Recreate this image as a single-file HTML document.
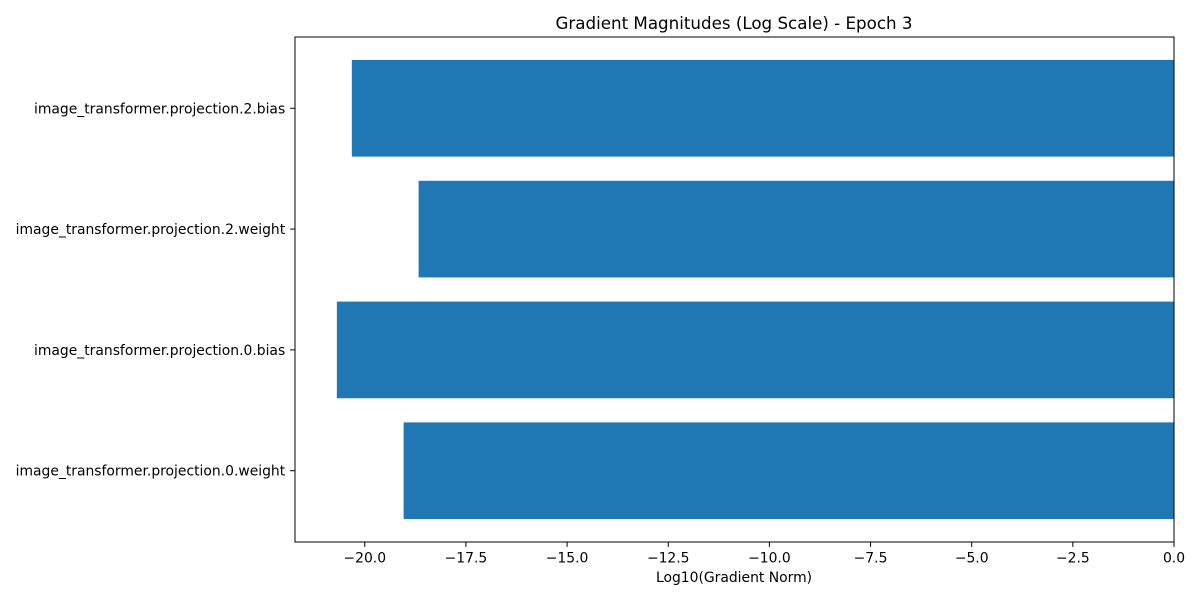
<!DOCTYPE html>
<html><head><meta charset="utf-8"><style>
body{margin:0;background:#fff;font-family:"Liberation Sans","DejaVu Sans",sans-serif;}
svg text{font-family:"DejaVu Sans","Liberation Sans",sans-serif;}
</style></head><body>
<svg id="chart" width="1200" height="600" xmlns="http://www.w3.org/2000/svg">
<text x="734" y="29" font-size="16.7" text-anchor="middle">Gradient Magnitudes (Log Scale) - Epoch 3</text>
<g id="bars"></g>
<g id="xaxis"></g>
<g id="yaxis"></g>
<rect x="295" y="37" width="879" height="505" fill="none" stroke="#000" stroke-width="1"/>
<text x="734" y="582" font-size="13.9" text-anchor="middle">Log10(Gradient Norm)</text>
</svg>
<script>
const categories = ["image_transformer.projection.0.weight","image_transformer.projection.0.bias","image_transformer.projection.2.weight","image_transformer.projection.2.bias"];
const values = [-19.04, -20.69, -18.67, -20.32];
const xTicks = [-20, -17.5, -15, -12.5, -10, -7.5, -5, -2.5, 0];
const xTickLabels = ["\u221220.0","\u221217.5","\u221215.0","\u221212.5","\u221210.0","\u22127.5","\u22125.0","\u22122.5","0.0"];
const NS="http://www.w3.org/2000/svg";
const L=295,R=1174,T=37,B=542;
const minV=Math.min(...values,0), xmin=minV-0.05*(0-minV), xmax=0;
const x=v=>L+(v-xmin)/(xmax-xmin)*(R-L);
const n=categories.length, span=(n-1)+0.8+2*0.05*((n-1)+0.8);
const y0=-0.4-0.05*((n-1)+0.8);
const y=i=>B-(i-y0)/span*(B-T);
function mk(t,a,p){const e=document.createElementNS(NS,t);for(const k in a)e.setAttribute(k,a[k]);p.appendChild(e);return e;}
const bars=document.getElementById('bars');
values.forEach((v,i)=>{
  const x1=x(Math.min(v,0)),x2=x(Math.max(v,0));
  const r=mk('rect',{x:x1,y:y(i+0.4),width:x2-x1,height:y(i-0.4)-y(i+0.4),fill:'#1f77b4'},bars);
  
  
});
const xa=document.getElementById('xaxis');
xTicks.forEach((t,i)=>{
  const l=mk('line',{x1:x(t),x2:x(t),y1:B,y2:B+4.9,stroke:'#000'},xa);
  
  
  const tx=mk('text',{x:x(t),y:B+20.5,'font-size':13.9,'text-anchor':'middle'},xa);
  tx.textContent=xTickLabels[i];
  
  
});
const ya=document.getElementById('yaxis');
categories.forEach((c,i)=>{
  const l=mk('line',{x1:L-4.9,x2:L,y1:y(i),y2:y(i),stroke:'#000'},ya);
  
  
  const tx=mk('text',{x:L-9.8,y:y(i)+5,'font-size':13.9,'text-anchor':'end'},ya);
  tx.textContent=c;
  
  
});
</script>
</body></html>
